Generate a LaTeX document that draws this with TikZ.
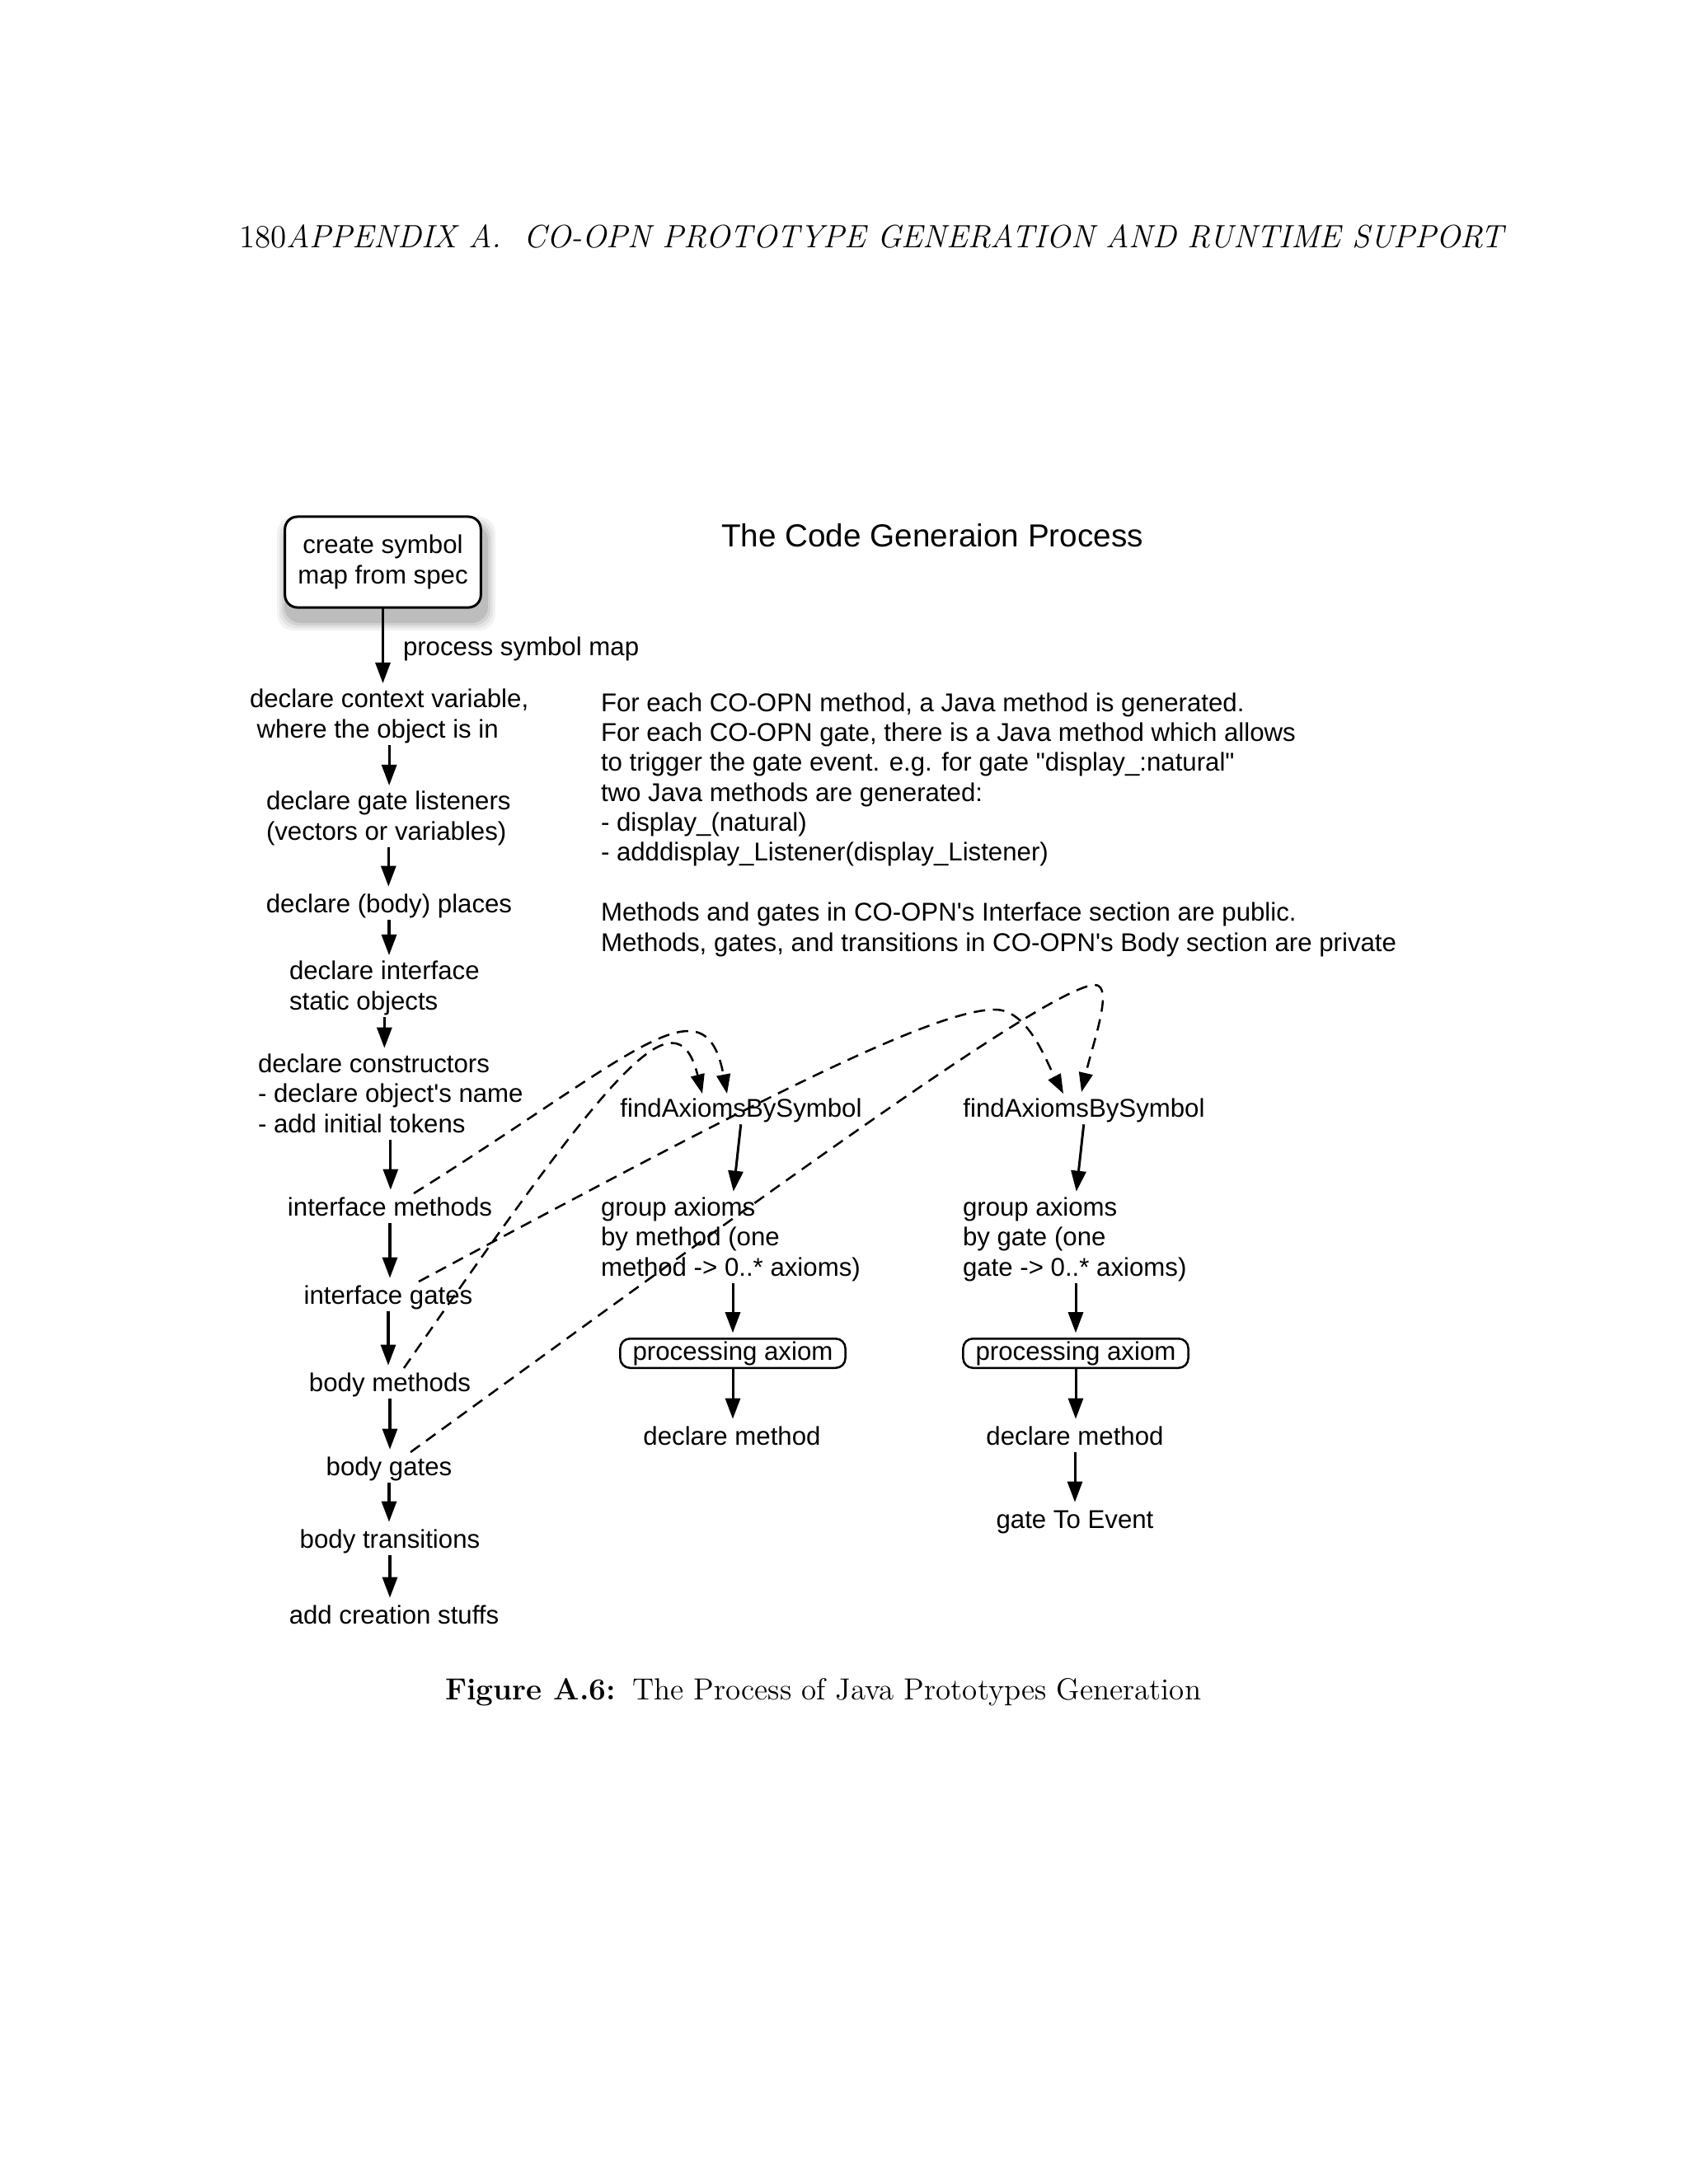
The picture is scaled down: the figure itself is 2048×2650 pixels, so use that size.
\documentclass[tikz,border=0pt]{standalone}
\usepackage{fontspec}
\newfontfamily\helv{Liberation Sans}
\usetikzlibrary{arrows.meta,calc}
\tikzset{
  every node/.style={inner sep=0pt, outer sep=0pt},
  txt/.style={font=\helv\fontsize{9.36}{10.9}\selectfont},
  one/.style={txt, text height=0.73em, text depth=0.21em},
  multi/.style={txt, align=left},
  flow/.style={line width=0.9bp, -{Triangle[length=7.5bp,width=5.4bp]}, shorten <=0.7bp, shorten >=2.1bp},
  dep/.style={line width=0.75bp, dash pattern=on 4.2bp off 2.8bp, -{Triangle[length=7bp,width=5bp]}},
  pbox/.style={txt, draw, line width=0.75bp, rounded corners=3.5bp, minimum width=81.6bp, minimum height=10.6bp, text height=0.73em, text depth=0.21em},
}
\begin{document}
\begin{tikzpicture}[x=0.29883bp, y=-0.29883bp]
\useasboundingbox (0,0) rectangle (2048,2650);
% header
\node[anchor=base west, font=\fontsize{11.74}{14}\selectfont] (hdr) at (290,300) {180\textit{APPENDIX A.\ \ CO-OPN PROTOTYPE GENERATION AND RUNTIME SUPPORT}};
% title
\node[anchor=base, font=\helv\fontsize{11.6}{13}\selectfont] (title) at (1131,663) {The Code Generaion Process};
% shadow for start box
\foreach \s/\o in {14/0.05,11/0.06,8/0.08,5/0.1}{
  \fill[black, opacity=\o, rounded corners=6bp] (346-\s+4,627-\s+14) rectangle (583+\s+4,737+\s+14);
}
\node[txt, draw, line width=0.9bp, fill=white, rounded corners=4.5bp, minimum width=71bp, minimum height=32.9bp, align=center] (start) at (464.5,682) {create symbol\\map from spec};
\node[multi, anchor=base west] (ctx) at (303,895) {declare context variable,\\\ where the object is in};
\node[multi, anchor=base west] (gl) at (323,1019) {declare gate listeners\\(vectors or variables)};
\node[one, anchor=base] (places) at (472,1107) {declare (body) places};
\node[multi, anchor=base west] (stat) at (351,1225) {declare interface\\static objects};
\node[multi, anchor=base west] (cons) at (313,1374) {declare constructors\\- declare object's name\\- add initial tokens\vphantom{p}};
\node[one, anchor=base] (im) at (473,1475) {interface methods};
\node[one, anchor=base] (ig) at (471,1582) {interface gates};
\node[one, anchor=base] (bm) at (473,1688) {body methods};
\node[one, anchor=base] (bg) at (472,1790) {body gates};
\node[one, anchor=base] (bt) at (473,1878) {body transitions};
\node[one, anchor=base] (add) at (478,1970) {add creation stuffs};

\node[one, anchor=base west] (psm) at (489,795) {process symbol map};

\node[multi, anchor=base west] (note) at (729,1154) {For each CO-OPN method, a Java method is generated.\\For each CO-OPN gate, there is a Java method which allows\\to trigger the gate event. e.g. for gate "display\_:natural"\\two Java methods are generated:\\- display\_(natural)\\- adddisplay\_Listener(display\_Listener)\\[10.9pt]Methods and gates in CO-OPN's Interface section are public.\\Methods, gates, and transitions in CO-OPN's Body section are private};

\node[one, anchor=base] (f1) at (899,1355) {findAxiomsBySymbol};
\node[multi, anchor=base west] (g1) at (729,1548) {group axioms\\by method (one\\method -> 0..* axioms)};
\node[pbox] (p1) at (889,1642) {processing axiom};
\node[one, anchor=base] (d1) at (888,1753) {declare method};

\node[one, anchor=base] (f2) at (1315,1355) {findAxiomsBySymbol};
\node[multi, anchor=base west] (g2) at (1168,1548) {group axioms\\by gate (one\\gate -> 0..* axioms)};
\node[pbox] (p2) at (1305,1642) {processing axiom};
\node[one, anchor=base] (d2) at (1304,1753) {declare method};
\node[one, anchor=base] (ev) at (1304,1854) {gate To Event};

% caption
\node[anchor=base west, font=\fontsize{11.1}{13}\selectfont] (cap) at (540,2062) {\textbf{Figure A.6:}\hspace{0.55em}The Process of Java Prototypes Generation};

% flow arrows
\draw[flow, shorten <=0pt] (start.south) -- (start.south |- ctx.north);
\draw[flow] (ctx.south) -- (ctx.south |- gl.north);
\draw[flow] (gl.south) -- (gl.south |- places.north);
\draw[flow] (places.south) -- (places.south |- stat.north);
\draw[flow] (stat.south) -- (stat.south |- cons.north);
\draw[flow] (cons.south) -- (cons.south |- im.north);
\draw[flow] (im.south) -- (im.south |- ig.north);
\draw[flow] (ig.south) -- (ig.south |- bm.north);
\draw[flow] (bm.south) -- (bm.south |- bg.north);
\draw[flow] (bg.south) -- (bg.south |- bt.north);
\draw[flow] (bt.south) -- (bt.south |- add.north);

\draw[flow] (f1.south) -- (g1.north -| p1.north);
\draw[flow] (g1.south -| p1.north) -- (p1.north);
\draw[flow, shorten <=0pt] (p1.south) -- (p1.south |- d1.north);
\draw[flow] (f2.south) -- (g2.north -| p2.north);
\draw[flow] (g2.south -| p2.north) -- (p2.north);
\draw[flow, shorten <=0pt] (p2.south) -- (p2.south |- d2.north);
\draw[flow] (d2.south) -- (d2.south |- ev.north);

% dashed dependencies
\coordinate (imS) at (502,1448);
\coordinate (bmS) at (490,1660);
\coordinate (igS) at (508,1555);
\coordinate (bgS) at (498,1762);
\coordinate (f1L) at (852,1327);
\coordinate (f1R) at (882,1327);
\coordinate (f2L) at (1290,1327);
\coordinate (f2R) at (1312,1325);
\draw[dep] (imS) .. controls (770,1280) and (855,1185) .. (f1R);
\draw[dep] (bmS) .. controls (740,1300) and (820,1200) .. (f1L);
\draw[dep] (igS) .. controls (900,1345) and (1130,1225) .. (1207,1225) .. controls (1247,1225) and (1269,1287) .. (f2L);
\draw[dep] (bgS) .. controls (900,1470) and (1270,1198) .. (1328,1195) .. controls (1352,1195) and (1326,1265) .. (f2R);
\end{tikzpicture}
\end{document}
